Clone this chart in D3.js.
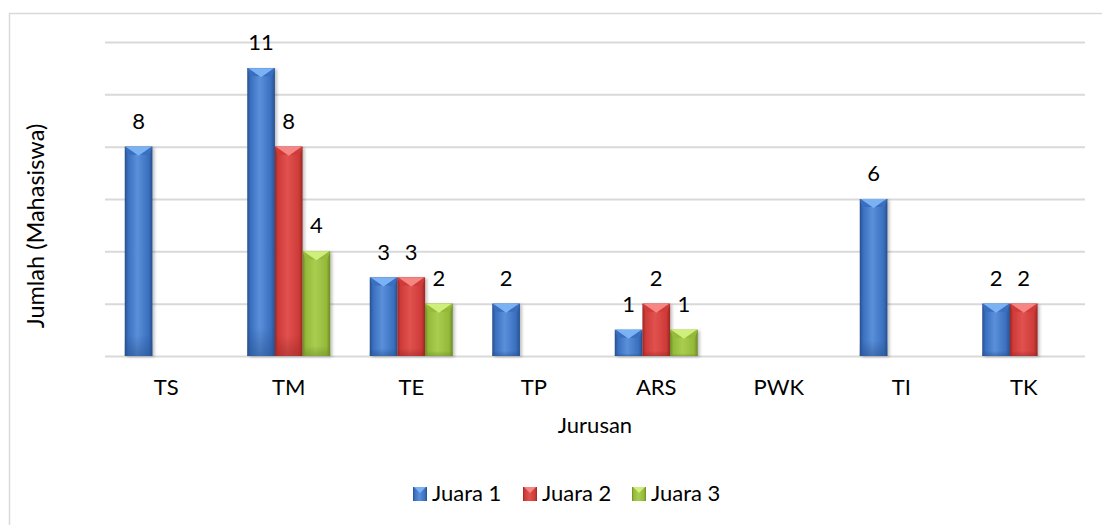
<!DOCTYPE html>
<html>
<head>
<meta charset="utf-8">
<script src="https://cdn.jsdelivr.net/npm/d3@7/dist/d3.min.js"></script>
<style>
  html, body { margin: 0; padding: 0; background: #fff; }
  svg { display: block; font-family: Lato, "Open Sans", sans-serif; }
</style>
</head>
<body>
<svg id="chart" width="1102" height="525"></svg>
<script>
const categories = ["TS", "TM", "TE", "TP", "ARS", "PWK", "TI", "TK"];
const seriesNames = ["Juara 1", "Juara 2", "Juara 3"];
const juara1 = [8, 11, 3, 2, 1, 0, 6, 2];
const juara2 = [0, 8, 3, 0, 2, 0, 0, 2];
const juara3 = [0, 4, 2, 0, 1, 0, 0, 0];
const yTicks = [0, 2, 4, 6, 8, 10, 12];
const xTitle = "Jurusan";
const yTitle = "Jumlah (Mahasiswa)";

const seriesValues = [juara1, juara2, juara3];
const palettes = [
  { main: "#3a6fbf", light: "#5a90da", edge: "#264f8c", top: "#7ab2f4" },
  { main: "#cf3b38", light: "#e0524f", edge: "#982725", top: "#f58684" },
  { main: "#94ba3a", light: "#a9cd50", edge: "#6d8a27", top: "#d0ee7c" }
];
const fs = 22;

const svg = d3.select("#chart");
const plot = { left: 105, right: 1085, top: 42, bottom: 356 };

// outer border
svg.append("rect").attr("x", 9.5).attr("y", 13.5).attr("width", 1200).attr("height", 600)
  .attr("fill", "none").attr("stroke", "#d9d9d9").attr("stroke-width", 1.5);

const x0 = d3.scaleBand().domain(categories).range([plot.left, plot.right]).paddingInner(0).paddingOuter(0);
const groupPad = 19.75;
const x1 = d3.scaleBand().domain(seriesNames).range([groupPad, x0.bandwidth() - groupPad]).padding(0);
const y = d3.scaleLinear().domain([0, 12]).range([plot.bottom, plot.top]);

const defs = svg.append("defs");
palettes.forEach((p, i) => {
  const g = defs.append("linearGradient").attr("id", "grad" + i).attr("x1", "0").attr("x2", "1").attr("y1", "0").attr("y2", "0");
  g.append("stop").attr("offset", "0").attr("stop-color", p.edge);
  g.append("stop").attr("offset", "0.12").attr("stop-color", p.main);
  g.append("stop").attr("offset", "0.45").attr("stop-color", p.light);
  g.append("stop").attr("offset", "0.86").attr("stop-color", p.main);
  g.append("stop").attr("offset", "1").attr("stop-color", p.edge);
  const gv = defs.append("linearGradient").attr("id", "vgrad" + i).attr("x1", "0").attr("x2", "0").attr("y1", "0").attr("y2", "1");
  gv.append("stop").attr("offset", "0").attr("stop-color", p.edge).attr("stop-opacity", 0);
  gv.append("stop").attr("offset", "0.9").attr("stop-color", p.edge).attr("stop-opacity", 0);
  gv.append("stop").attr("offset", "1").attr("stop-color", p.edge).attr("stop-opacity", 0.5);
});
const filt = defs.append("filter").attr("id", "shadow").attr("x", "-20%").attr("y", "-5%").attr("width", "150%").attr("height", "115%");
filt.append("feDropShadow").attr("dx", 2).attr("dy", 1).attr("stdDeviation", 1.5).attr("flood-color", "#000").attr("flood-opacity", 0.25);

// gridlines
const yAxis = d3.axisLeft(y).tickValues(yTicks).tickSize(-(plot.right - plot.left)).tickFormat("");
const ga = svg.append("g").attr("transform", `translate(${plot.left},0)`).call(yAxis);
ga.select(".domain").remove();
ga.selectAll(".tick line").attr("stroke", "#d9d9d9").attr("stroke-width", 2);

// x axis labels
const xAxis = d3.axisBottom(x0).tickSize(0).tickPadding(23);
const gx = svg.append("g").attr("transform", `translate(0,${plot.bottom})`).call(xAxis);
gx.select(".domain").remove();
gx.selectAll("text").attr("font-family", "Lato, sans-serif").attr("font-size", fs).attr("fill", "#000");

// bars
const barData = [];
categories.forEach((c, ci) => {
  seriesNames.forEach((s, si) => {
    barData.push({ cat: c, series: s, si, value: seriesValues[si][ci] });
  });
});

const bars = svg.append("g").selectAll("g.bar").data(barData.filter(d => d.value > 0)).join("g").attr("class", "bar");
bars.each(function(d) {
  const g = d3.select(this);
  const bx = x0(d.cat) + x1(d.series);
  const bw = x1.bandwidth();
  const by = y(d.value);
  const bh = y(0) - y(d.value);
  const p = palettes[d.si];
  g.append("rect").attr("x", bx).attr("y", by).attr("width", bw).attr("height", bh)
    .attr("fill", `url(#grad${d.si})`).attr("filter", "url(#shadow)");
  g.append("rect").attr("x", bx).attr("y", by).attr("width", bw).attr("height", bh)
    .attr("fill", `url(#vgrad${d.si})`);
  const bev = 8;
  g.append("polygon").attr("points", `${bx},${by} ${bx + bw},${by} ${bx + bw - 3},${by + bev} ${bx + 3},${by + bev}`)
    .attr("fill", p.main);
  g.append("polygon").attr("points", `${bx + 1},${by} ${bx + bw - 1},${by} ${bx + bw / 2},${by + bev + 1}`)
    .attr("fill", p.top);
});

// value labels
svg.append("g").selectAll("text").data(barData.filter(d => d.value > 0)).join("text")
  .attr("x", d => x0(d.cat) + x1(d.series) + x1.bandwidth() / 2)
  .attr("y", d => y(d.value) - 18)
  .attr("text-anchor", "middle")
  .attr("font-size", fs).attr("fill", "#000")
  .text(d => d.value);

// axis titles
svg.append("text").attr("x", (plot.left + plot.right) / 2).attr("y", 433)
  .attr("text-anchor", "middle").attr("font-size", fs).attr("fill", "#000").text(xTitle);
svg.append("text").attr("transform", `translate(44,226) rotate(-90)`)
  .attr("text-anchor", "middle").attr("font-size", 23.5).attr("fill", "#000").text(yTitle);

// legend
const legendX = [413, 523, 632];
const lg = svg.append("g").selectAll("g").data(seriesNames).join("g")
  .attr("transform", (d, i) => `translate(${legendX[i]},487)`);
lg.append("rect").attr("width", 14).attr("height", 14).attr("fill", (d, i) => `url(#grad${i})`);
lg.append("polygon").attr("points", "1,0 13,0 7,6").attr("fill", (d, i) => palettes[i].top);
lg.append("text").attr("x", 19).attr("y", 14).attr("font-size", fs).attr("fill", "#000").text(d => d);
</script>
</body>
</html>
